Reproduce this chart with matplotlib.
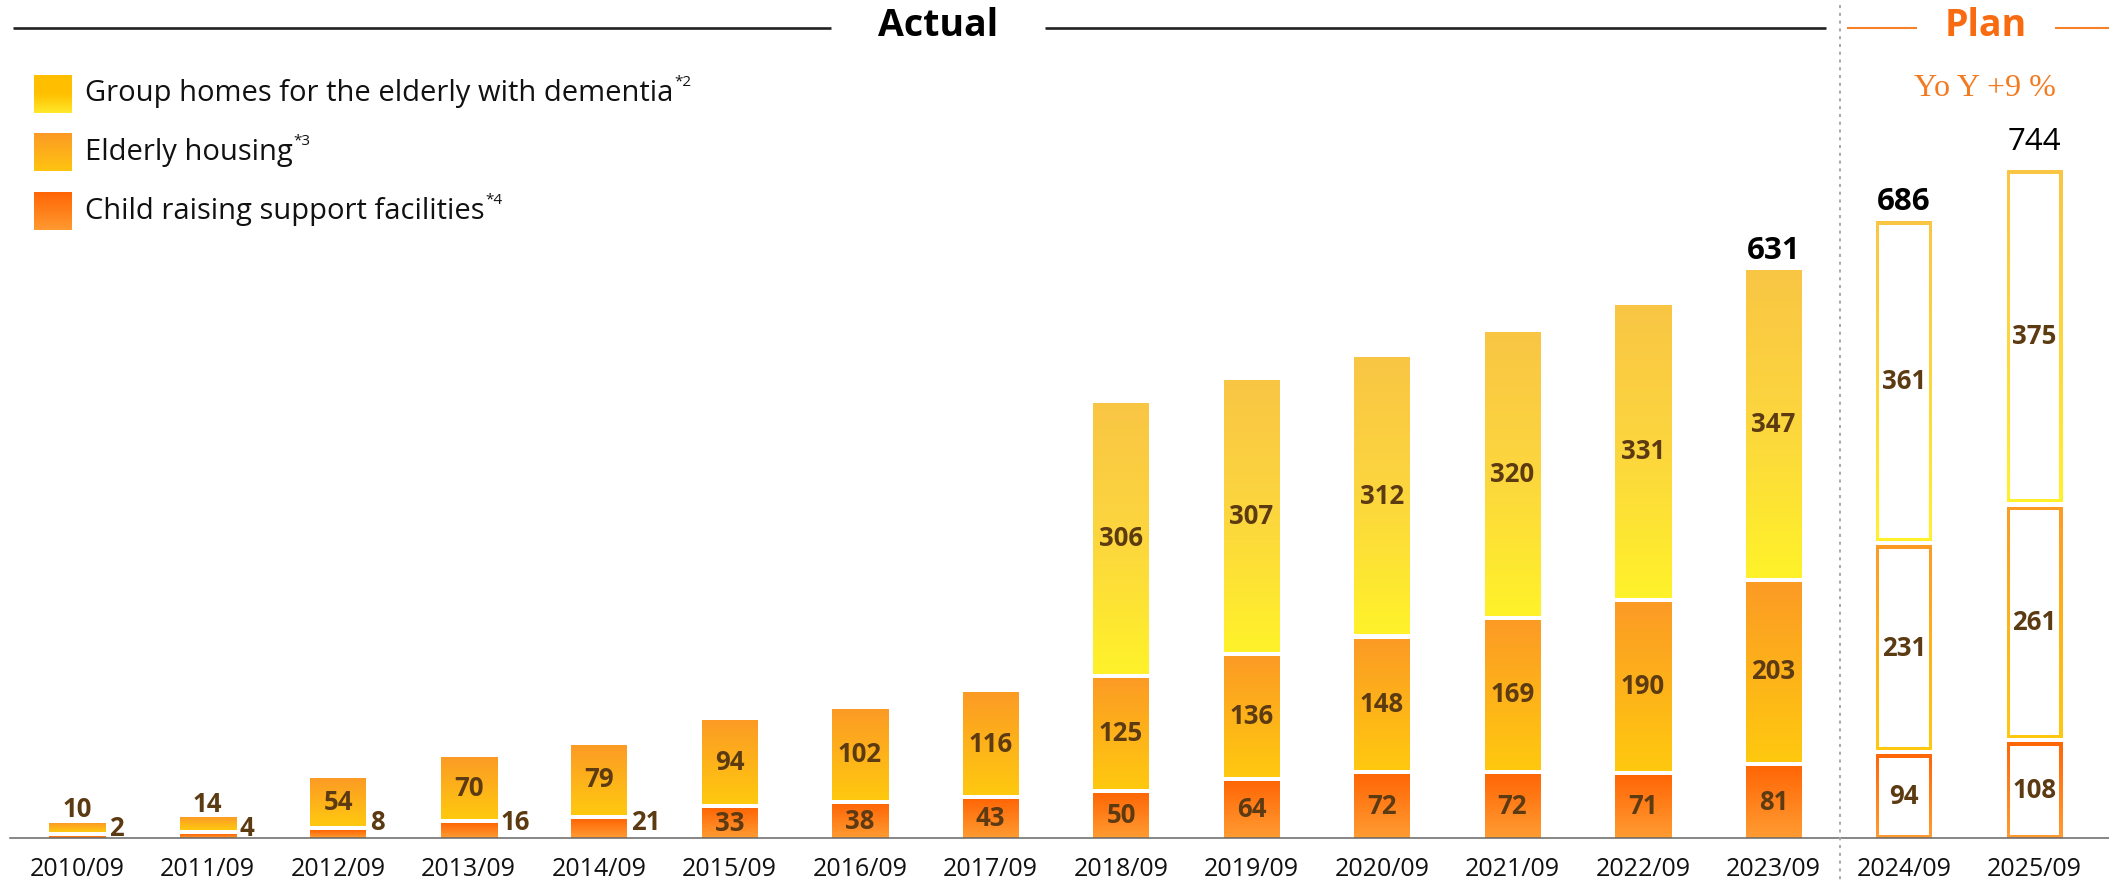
import numpy as np
import matplotlib
matplotlib.use('Agg')
import matplotlib.pyplot as plt
from matplotlib.colors import LinearSegmentedColormap
from matplotlib.patches import Rectangle

plt.rcParams['font.family'] = ['Open Sans', 'DejaVu Sans']

# facilities per fiscal period (last two are plan figures)
periods = ['2010/09', '2011/09', '2012/09', '2013/09', '2014/09', '2015/09', '2016/09', '2017/09',
           '2018/09', '2019/09', '2020/09', '2021/09', '2022/09', '2023/09', '2024/09', '2025/09']
child = [2, 4, 8, 16, 21, 33, 38, 43, 50, 64, 72, 72, 71, 81, 94, 108]
elderly = [10, 14, 54, 70, 79, 94, 102, 116, 125, 136, 148, 169, 190, 203, 231, 261]
group = [0, 0, 0, 0, 0, 0, 0, 0, 306, 307, 312, 320, 331, 347, 361, 375]
n_plan = 2
total_idx = [13, 14, 15]

legend_labels = ['Group homes for the elderly with dementia', 'Elderly housing',
                 'Child raising support facilities']
legend_notes = ['*2', '*3', '*4']

W, H = 2109, 885
X0, PX_X = 77, 130.5      # pixel centre of first bar, pixels per period
BASE, PX_Y = 838, 0.885   # baseline row, pixels per facility

fig = plt.figure(figsize=(W / 100, H / 100), dpi=100)
ax = fig.add_axes([0, (H - BASE) / H, 1, BASE / H])
ax.axis('off')


def ramp(stops):
    return LinearSegmentedColormap.from_list('', stops)


fill = {
    'child': ramp([(0, '#FF9C32'), (1, '#FF6606')]),
    'elderly': ramp([(0, '#FFC90F'), (1, '#FC9B25')]),
    'group': ramp([(0, '#FFF22A'), (0.5, '#FCD63E'), (1, '#F9C644')]),
}
swatch = [ramp([(0, '#FFE82A'), (0.5, '#FFC000'), (1, '#FFBE00')]),
          ramp([(0, '#FFC410'), (1, '#FC9A24')]),
          ramp([(0, '#FF9A30'), (1, '#FF6505')])]

grad = np.linspace(0, 1, 128).reshape(-1, 1)


def gradient_box(axis, x0, x1, y0, y1, cmap, z):
    axis.imshow(grad, cmap=cmap, extent=(x0, x1, y0, y1), origin='lower',
                aspect='auto', interpolation='bilinear', zorder=z)


bw = 56 / PX_X
gap = 4.5 / PX_Y
sx, sy = 3.3 / PX_X, 3.3 / PX_Y
brown = '#5C3A12'
n = len(periods)
lab_fs = 18.5

for i in range(n):
    plan = i >= n - n_plan
    y = 0
    for key, vals in (('child', child), ('elderly', elderly), ('group', group)):
        v = vals[i]
        if v == 0:
            continue
        y0, y1 = y, y + v
        gradient_box(ax, i - bw / 2, i + bw / 2, y0, y1, fill[key], 2)
        if plan:
            ax.add_patch(Rectangle((i - bw / 2 + sx, y0 + sy), bw - 2 * sx, v - 2 * sy,
                                   fc='white', ec='none', zorder=3))
        if key == 'child' and v < 25:
            ly = (9 if v < 5 else 15) / PX_Y
            ax.text(i + bw / 2 + 4 / PX_X, ly, str(v), ha='left', va='center',
                    fontsize=lab_fs, fontweight='bold', color=brown, zorder=4)
        elif key == 'elderly' and v < 20:
            ax.text(i, y1, str(v), ha='center', va='bottom',
                    fontsize=lab_fs, fontweight='bold', color=brown, zorder=4)
        else:
            ax.text(i, (y0 + y1) / 2, str(v), ha='center', va='center',
                    fontsize=lab_fs, fontweight='bold', color=brown, zorder=4)
        y = y1 + gap

for i in total_idx:
    total = child[i] + elderly[i] + group[i]
    top = total + 2 * gap
    pad = (14 if i == n - 1 else 5) / PX_Y
    ax.text(i, top + pad, str(total), ha='center', va='bottom', fontsize=22.5,
            fontweight='normal' if i == n - 1 else 'bold', color='black', zorder=4)

for i, p in enumerate(periods):
    ax.text(i, -(876 - BASE) / PX_Y, p, ha='center', va='baseline',
            fontsize=18, color='#111111')

ax.axhline(0, xmin=10 / W, color='#666666', lw=1.1, zorder=5, clip_on=False)
ax.set_xlim(-X0 / PX_X, (W - X0) / PX_X)
ax.set_ylim(0, BASE / PX_Y)

# headers, legend and divider in pixel coordinates
deco = fig.add_axes([0, 0, 1, 1], zorder=3)
deco.patch.set_alpha(0)
deco.axis('off')
deco.set_xlim(0, W)
deco.set_ylim(H, 0)

deco.plot([13, 831], [28, 28], color='#222222', lw=1.9, solid_capstyle='butt')
deco.plot([1045, 1826], [28, 28], color='#222222', lw=1.9, solid_capstyle='butt')
deco.text(938, 26, 'Actual', ha='center', va='center', fontsize=27, fontweight='bold', color='black')

deco.plot([1847, 1917], [28, 28], color='#F5822A', lw=1.5, solid_capstyle='butt')
deco.plot([2055, 2109], [28, 28], color='#F5822A', lw=1.5, solid_capstyle='butt')
deco.text(1986, 26, 'Plan', ha='center', va='center', fontsize=27, fontweight='bold', color='#F96B10')
deco.text(1985, 88, 'Yo Y +9 %', ha='center', va='center', fontsize=23,
          family='Liberation Serif', color='#F47A1F')

deco.plot([1839.5, 1839.5], [5, 882], color='#A8A8A8', lw=1.4, dashes=(1.6, 2.4))

renderer = fig.canvas.get_renderer()
rows = [94, 152.5, 211.5]
for cy, label, note, cm in zip(rows, legend_labels, legend_notes, swatch):
    gradient_box(deco, 34, 72, cy + 19, cy - 19, cm, 2)
    t = deco.text(85, cy, label, ha='left', va='center', fontsize=21, color='#111111')
    bb = t.get_window_extent(renderer)
    deco.text(bb.x1 + 1, cy - 11, note, ha='left', va='center', fontsize=11, color='#111111')

deco.set_xlim(0, W)
deco.set_ylim(H, 0)

fig.savefig('out.png', dpi=100)
